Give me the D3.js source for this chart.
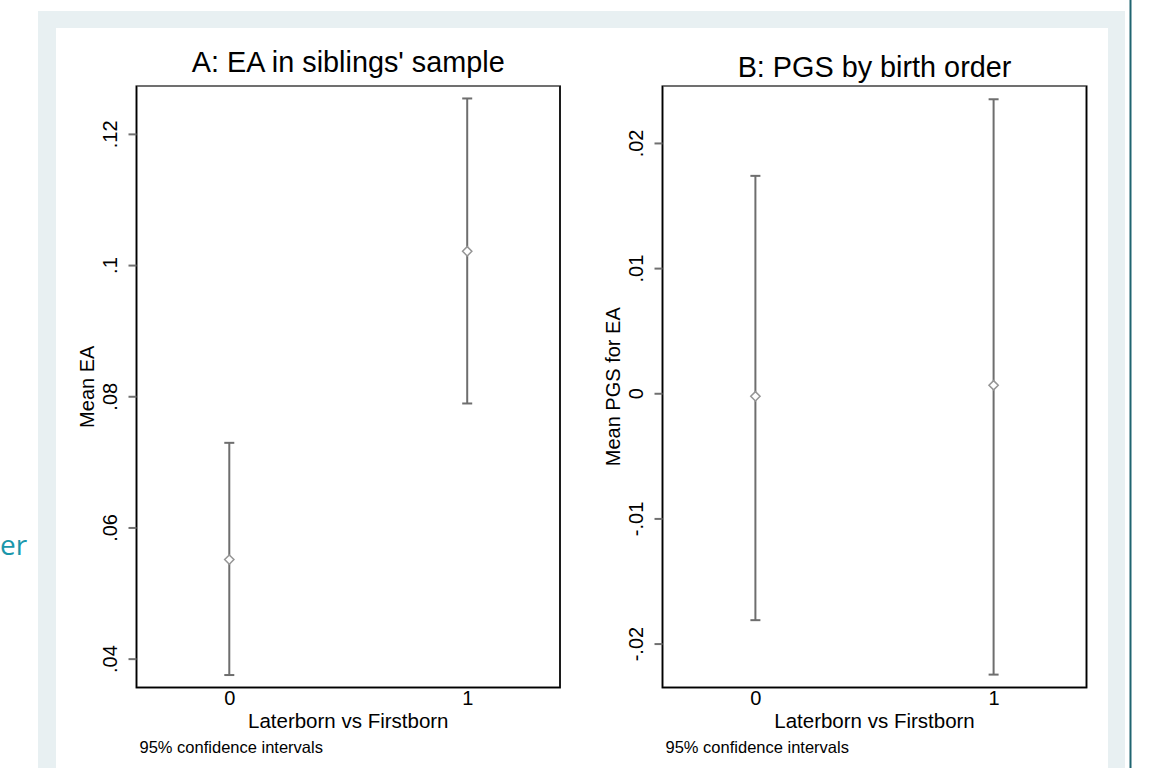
<!DOCTYPE html>
<html>
<head>
<meta charset="utf-8">
<script src="https://cdn.jsdelivr.net/npm/d3@7"></script>
<style>
  body { margin: 0; background: #fff; }
  svg text { font-family: "Liberation Sans", Arial, sans-serif; fill: #000; }
</style>
</head>
<body>
<div id="chart"></div>
<script>
// x categories
let groups = [0, 1]

// Panel A: mean EA with 95% CI
let eaMean = [0.0551, 0.1021]
let eaLow = [0.0375, 0.0789]
let eaHigh = [0.0729, 0.1254]
let eaTicks = [0.04, 0.06, 0.08, 0.1, 0.12]
let eaTickLabels = ['.04', '.06', '.08', '.1', '.12']

// Panel B: mean PGS with 95% CI
let pgsMean = [-0.00024, 0.00064]
let pgsLow = [-0.01813, -0.02248]
let pgsHigh = [0.01737, 0.02349]
let pgsTicks = [-0.02, -0.01, 0, 0.01, 0.02]
let pgsTickLabels = ['-.02', '-.01', '0', '.01', '.02']

let width = 1156
let height = 768

let svg = d3
  .select('#chart')
  .append('svg')
  .attr('width', width)
  .attr('height', height)

// slide frame behind the figure
svg.append('rect')
  .attr('x', 38).attr('y', 11)
  .attr('width', 1087).attr('height', height)
  .attr('fill', '#e8f0f2')
svg.append('rect')
  .attr('x', 56).attr('y', 28)
  .attr('width', 1052).attr('height', height)
  .attr('fill', '#fff')
svg.append('line')
  .attr('x1', 1130.5).attr('x2', 1130.5)
  .attr('y1', 0).attr('y2', height)
  .attr('stroke', '#1f6470')
  .attr('stroke-width', 2)
svg.append('text')
  .attr('x', 0).attr('y', 555)
  .style('font-family', '"Open Sans", sans-serif')
  .style('font-size', '28px')
  .style('fill', '#1a97ab')
  .text('er')

function panel(opts) {
  let x = d3.scaleLinear().domain([-0.39, 1.39]).range([opts.left, opts.right])
  let y = d3.scaleLinear().domain(opts.domain).range([opts.bottom, opts.top])

  let g = svg.append('g')

  // plot box
  g.append('rect')
    .attr('x', opts.left).attr('y', opts.top)
    .attr('width', opts.right - opts.left)
    .attr('height', opts.bottom - opts.top)
    .attr('fill', 'none')
    .attr('stroke', '#707070')
    .attr('stroke-width', 2)
  g.append('path')
    .attr('d', `M${opts.left},${opts.top}V${opts.bottom}H${opts.right}V${opts.top}`)
    .attr('fill', 'none')
    .attr('stroke', '#000')
    .attr('stroke-width', 1.5)

  // y axis ticks
  let yAxis = d3.axisLeft(y)
    .tickValues(opts.ticks)
    .tickFormat((d, i) => opts.tickLabels[i])
    .tickSize(8)
    .tickPadding(0)
  let ya = g.append('g')
    .attr('transform', `translate(${opts.left},0)`)
    .call(yAxis)
  ya.select('.domain').remove()
  ya.selectAll('.tick line').attr('stroke', '#707070').attr('stroke-width', 2)
  ya.selectAll('.tick text')
    .attr('x', 0).attr('dy', 0)
    .attr('transform', 'translate(-20,0) rotate(-90)')
    .attr('text-anchor', 'middle')
    .style('font-size', '20px')
    .style('font-family', '"Liberation Sans", Arial, sans-serif')

  // x axis labels, no tick marks
  let xAxis = d3.axisBottom(x)
    .tickValues(groups)
    .tickFormat(d3.format('d'))
    .tickSize(0)
    .tickPadding(3)
  let xa = g.append('g')
    .attr('transform', `translate(0,${opts.bottom})`)
    .call(xAxis)
  xa.select('.domain').remove()
  xa.selectAll('.tick text')
    .attr('dy', '0.71em')
    .style('font-size', '20px')
    .style('font-family', '"Liberation Sans", Arial, sans-serif')

  let cx = (opts.left + opts.right) / 2

  g.append('text')
    .attr('x', cx).attr('y', opts.titleY)
    .attr('text-anchor', 'middle')
    .style('font-size', '28.8px')
    .text(opts.title)

  g.append('text')
    .attr('x', cx).attr('y', 728)
    .attr('text-anchor', 'middle')
    .style('font-size', '20.5px')
    .text('Laterborn vs Firstborn')

  g.append('text')
    .attr('x', opts.left + 3).attr('y', 753)
    .style('font-size', '16.5px')
    .text('95% confidence intervals')

  g.append('text')
    .attr('transform', `translate(${opts.left - 43},${(opts.top + opts.bottom) / 2}) rotate(-90)`)
    .attr('text-anchor', 'middle')
    .style('font-size', '20px')
    .text(opts.yTitle)

  // confidence intervals
  let rows = groups.map((d, i) => ({ g: d, mean: opts.mean[i], lo: opts.low[i], hi: opts.high[i] }))

  g.selectAll('.ci')
    .data(rows)
    .enter()
    .append('line')
    .attr('class', 'ci')
    .attr('x1', d => x(d.g)).attr('x2', d => x(d.g))
    .attr('y1', d => y(d.lo)).attr('y2', d => y(d.hi))
    .attr('stroke', '#6e6e6e')
    .attr('stroke-width', 2)

  g.selectAll('.cap-lo')
    .data(rows)
    .enter()
    .append('line')
    .attr('x1', d => x(d.g) - 5).attr('x2', d => x(d.g) + 5)
    .attr('y1', d => y(d.lo)).attr('y2', d => y(d.lo))
    .attr('stroke', '#6e6e6e')
    .attr('stroke-width', 2)

  g.selectAll('.cap-hi')
    .data(rows)
    .enter()
    .append('line')
    .attr('x1', d => x(d.g) - 5).attr('x2', d => x(d.g) + 5)
    .attr('y1', d => y(d.hi)).attr('y2', d => y(d.hi))
    .attr('stroke', '#6e6e6e')
    .attr('stroke-width', 2)

  // hollow diamond markers
  g.selectAll('.mean')
    .data(rows)
    .enter()
    .append('path')
    .attr('class', 'mean')
    .attr('d', d3.symbol(d3.symbolDiamond2, 55))
    .attr('transform', d => `translate(${x(d.g)},${y(d.mean)})`)
    .attr('fill', '#fff')
    .attr('stroke', '#959595')
    .attr('stroke-width', 1.5)
}

panel({
  left: 136.5, right: 560, top: 86, bottom: 687.5,
  domain: [0.0356, 0.1273],
  ticks: eaTicks, tickLabels: eaTickLabels,
  mean: eaMean, low: eaLow, high: eaHigh,
  title: "A: EA in siblings' sample", titleY: 72,
  yTitle: 'Mean EA'
})

panel({
  left: 662.5, right: 1086.5, top: 86, bottom: 687.5,
  domain: [-0.02351, 0.02455],
  ticks: pgsTicks, tickLabels: pgsTickLabels,
  mean: pgsMean, low: pgsLow, high: pgsHigh,
  title: 'B: PGS by birth order', titleY: 77,
  yTitle: 'Mean PGS for EA'
})
</script>
</body>
</html>
